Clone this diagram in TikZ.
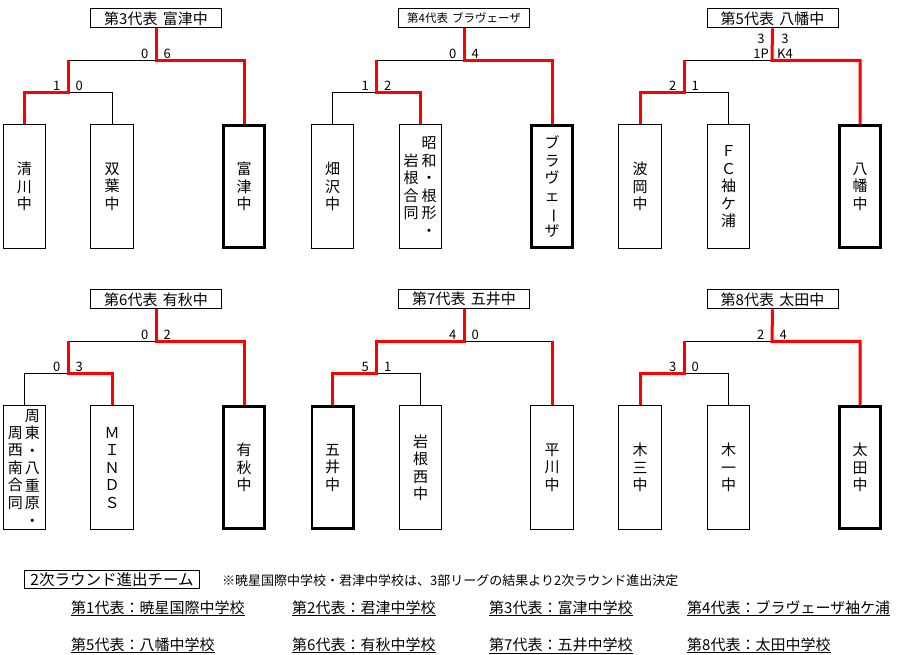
\documentclass[tikz,border=0pt]{standalone}
\usepackage{fontspec}
\setmainfont{Noto Sans CJK JP}
\usepackage{graphicx}
\usetikzlibrary{calc}
\definecolor{wred}{RGB}{255,0,0}
\tikzset{
 bl/.style={line width=1pt, black},
 rd/.style={line width=3pt, wred},
 tbox/.style={draw, line width=1pt, minimum width=42.3pt, minimum height=123.7pt, inner sep=0pt, align=center, font=\fontsize{15}{17.5}\selectfont},
 wbox/.style={tbox, line width=2.7pt, minimum width=41.3pt, minimum height=122pt},
 vtext/.style={inner sep=0pt, align=center, font=\fontsize{15}{17.5}\selectfont},
 ttl/.style={draw, line width=1pt, minimum width=131pt, minimum height=19pt, inner sep=0pt, font=\fontsize{15}{18}\selectfont},
 sc/.style={inner sep=0pt, font=\fontsize{13}{15}\selectfont},
 scl/.style={sc, anchor=base east},
 scr/.style={sc, anchor=base west},
 entry/.style={inner sep=0pt, anchor=base west, font=\fontsize{15}{18}\selectfont},
}
\newcommand{\vbar}{\rotatebox[origin=c]{-90}{ー}}
\newcommand{\tsp}{\hspace{0.35em}}
\begin{document}
\begin{tikzpicture}[x=1pt,y=-1pt]
\useasboundingbox (0,0) rectangle (900,654);
% ---------- top-left
\node[ttl] (t1) at (156,18.3) {第3代表\tsp 富津中};
\node[tbox] (a1) at (24.3,186.7) {清\\川\\中};
\node[tbox] (b1) at (112,186.7) {双\\葉\\中};
\node[wbox] (c1) at (244,186.7) {富\\津\\中};
\coordinate (j1) at (156,60.3);
\coordinate (k1) at (68,60.3);
\coordinate (m1) at (68,92.3);
% ---------- top-middle
\node[ttl, font=\fontsize{11.5}{13}\selectfont] (t2) at (464,18.3) {第4代表\tsp ブラヴェーザ};
\node[tbox] (a2) at (332.5,186.7) {畑\\沢\\中};
\node[tbox] (b2) at (420.5,186.7) {};
\node[vtext] (b2r) at ($(b2.center)+(8.5,0)$) {昭\\和\\・\\根\\形\\・};
\node[vtext] (b2l) at ($(b2.center)+(-9.5,0)$) {岩\\根\\合\\同};
\node[wbox] (c2) at (552,186.7) {ブ\\ラ\\ヴ\\ェ\\\vbar\\ザ};
\coordinate (j2) at (464,60.3);
\coordinate (k2) at (376.5,60.3);
\coordinate (m2) at (376.5,92.3);
% ---------- top-right
\node[ttl] (t3) at (772.5,18.3) {第5代表\tsp 八幡中};
\node[tbox] (a3) at (640,186.7) {波\\岡\\中};
\node[tbox] (b3) at (728.5,186.7) {Ｆ\\Ｃ\\袖\\ケ\\浦};
\node[wbox] (c3) at (860,186.7) {八\\幡\\中};
\coordinate (j3) at (772,60.3);
\coordinate (k3) at (684,60.3);
\coordinate (m3) at (684,92.3);
% ---------- bottom-left
\node[ttl] (t4) at (156,299.3) {第6代表\tsp 有秋中};
\node[tbox] (a4) at (24.3,467.7) {};
\node[vtext] (a4r) at ($(a4.center)+(8,0)$) {周\\東\\・\\八\\重\\原\\・};
\node[vtext] (a4l) at ($(a4.center)+(-9,0)$) {周\\西\\南\\合\\同};
\node[tbox] (b4) at (112,467.7) {Ｍ\\Ｉ\\Ｎ\\Ｄ\\Ｓ};
\node[wbox] (c4) at (244,467.7) {有\\秋\\中};
\coordinate (j4) at (156,341.3);
\coordinate (k4) at (68,341.3);
\coordinate (m4) at (68,373.3);
% ---------- bottom-middle
\node[ttl] (t5) at (464,299.3) {第7代表\tsp 五井中};
\node[wbox] (a5) at (332.5,467.7) {五\\井\\中};
\node[tbox] (b5) at (420.5,467.7) {岩\\根\\西\\中};
\node[tbox] (c5) at (552,467.7) {平\\川\\中};
\coordinate (j5) at (464,341.3);
\coordinate (k5) at (376.5,341.3);
\coordinate (m5) at (376.5,373.3);
% ---------- bottom-right
\node[ttl] (t6) at (772.5,299.3) {第8代表\tsp 太田中};
\node[tbox] (a6) at (640,467.7) {木\\三\\中};
\node[tbox] (b6) at (728.5,467.7) {木\\一\\中};
\node[wbox] (c6) at (860,467.7) {太\\田\\中};
\coordinate (j6) at (772,341.3);
\coordinate (k6) at (684,341.3);
\coordinate (m6) at (684,373.3);

% ---------- black connectors
\draw[bl] (k1) -- (j1);
\draw[bl] (m1) -- (m1 -| b1.north) -- (b1.north);
\draw[bl] (k2) -- (j2);
\draw[bl] (m2) -- (m2 -| a2.north) -- (a2.north);
\draw[bl] (k3) -- (j3);
\draw[bl] (m3) -- (m3 -| b3.north) -- (b3.north);
\draw[bl] (k4) -- (j4);
\draw[bl] (m4) -- (m4 -| a4.north) -- (a4.north);
\draw[bl] (j5) -- (j5 -| c5.north);
\draw[bl] (m5) -- (m5 -| b5.north) -- (b5.north);
\draw[bl] (k6) -- (j6);
\draw[bl] (m6) -- (m6 -| b6.north) -- (b6.north);
% ---------- red connectors
\draw[rd] (t1.south) -- (j1) -- (j1 -| c1.north) -- (c1.north);
\draw[rd] (k1) -- (m1) -- (m1 -| a1.north) -- (a1.north);
\draw[rd] (t2.south) -- (j2) -- (j2 -| c2.north) -- (c2.north);
\draw[rd] (k2) -- (m2) -- (m2 -| b2.north) -- (b2.north);
\draw[rd] (t3.south) -- (j3) -- (j3 -| c3.north) -- (c3.north);
\draw[rd] (k3) -- (m3) -- (m3 -| a3.north) -- (a3.north);
\draw[rd] (t4.south) -- (j4) -- (j4 -| c4.north) -- (c4.north);
\draw[rd] (k4) -- (m4) -- (m4 -| b4.north) -- (b4.north);
\draw[rd] (t5.south) -- (j5) -- (k5) -- (m5) -- (m5 -| a5.north) -- (a5.north);
\draw[rd] (j5 -| c5.north) -- (c5.north);
\draw[rd] (t6.south) -- (j6) -- (j6 -| c6.north) -- (c6.north);
\draw[rd] (k6) -- (m6) -- (m6 -| a6.north) -- (a6.north);

% ---------- scores
\node[scl] (s1a) at ($(j1)+(-7.5,-2.3)$) {0};
\node[scr] (s1b) at ($(j1)+(7.5,-2.3)$) {6};
\node[scl] (s1c) at ($(m1)+(-7.5,-2.3)$) {1};
\node[scr] (s1d) at ($(m1)+(7.5,-2.3)$) {0};
\node[scl] (s2a) at ($(j2)+(-7.5,-2.3)$) {0};
\node[scr] (s2b) at ($(j2)+(7.5,-2.3)$) {4};
\node[scl] (s2c) at ($(m2)+(-7.5,-2.3)$) {1};
\node[scr] (s2d) at ($(m2)+(7.5,-2.3)$) {2};
\node[sc, align=center, anchor=south east] (s3a) at ($(j3)+(-3,-1.5)$) {3\\1P};
\node[sc, align=center, anchor=south west] (s3b) at ($(j3)+(5,-1.5)$) {3\\K4};
\node[scl] (s3c) at ($(m3)+(-7.5,-2.3)$) {2};
\node[scr] (s3d) at ($(m3)+(7.5,-2.3)$) {1};
\node[scl] (s4a) at ($(j4)+(-7.5,-2.3)$) {0};
\node[scr] (s4b) at ($(j4)+(7.5,-2.3)$) {2};
\node[scl] (s4c) at ($(m4)+(-7.5,-2.3)$) {0};
\node[scr] (s4d) at ($(m4)+(7.5,-2.3)$) {3};
\node[scl] (s5a) at ($(j5)+(-7.5,-2.3)$) {4};
\node[scr] (s5b) at ($(j5)+(7.5,-2.3)$) {0};
\node[scl] (s5c) at ($(m5)+(-7.5,-2.3)$) {5};
\node[scr] (s5d) at ($(m5)+(7.5,-2.3)$) {1};
\node[scl] (s6a) at ($(j6)+(-7.5,-2.3)$) {2};
\node[scr] (s6b) at ($(j6)+(7.5,-2.3)$) {4};
\node[scl] (s6c) at ($(m6)+(-7.5,-2.3)$) {3};
\node[scr] (s6d) at ($(m6)+(7.5,-2.3)$) {0};

% ---------- legend
\node[draw, line width=1pt, minimum width=175pt, minimum height=18.5pt, inner sep=0pt, font=\fontsize{15.5}{18}\selectfont] (leg) at (112,579.5) {2次ラウンド進出チーム};
\node[inner sep=0pt, anchor=west, font=\fontsize{13}{15}\selectfont] (note) at (222,580.5) {※暁星国際中学校・君津中学校は、3部リーグの結果より2次ラウンド進出決定};
\node[entry] (e1) at (71,613) {\underline{第1代表：暁星国際中学校}};
\node[entry] (e2) at (292,613) {\underline{第2代表：君津中学校}};
\node[entry] (e3) at (489,613) {\underline{第3代表：富津中学校}};
\node[entry] (e4) at (687,613) {\underline{第4代表：ブラヴェーザ袖ケ浦}};
\node[entry] (e5) at (71,650) {\underline{第5代表：八幡中学校}};
\node[entry] (e6) at (292,650) {\underline{第6代表：有秋中学校}};
\node[entry] (e7) at (489,650) {\underline{第7代表：五井中学校}};
\node[entry] (e8) at (687,650) {\underline{第8代表：太田中学校}};
\end{tikzpicture}
\end{document}
